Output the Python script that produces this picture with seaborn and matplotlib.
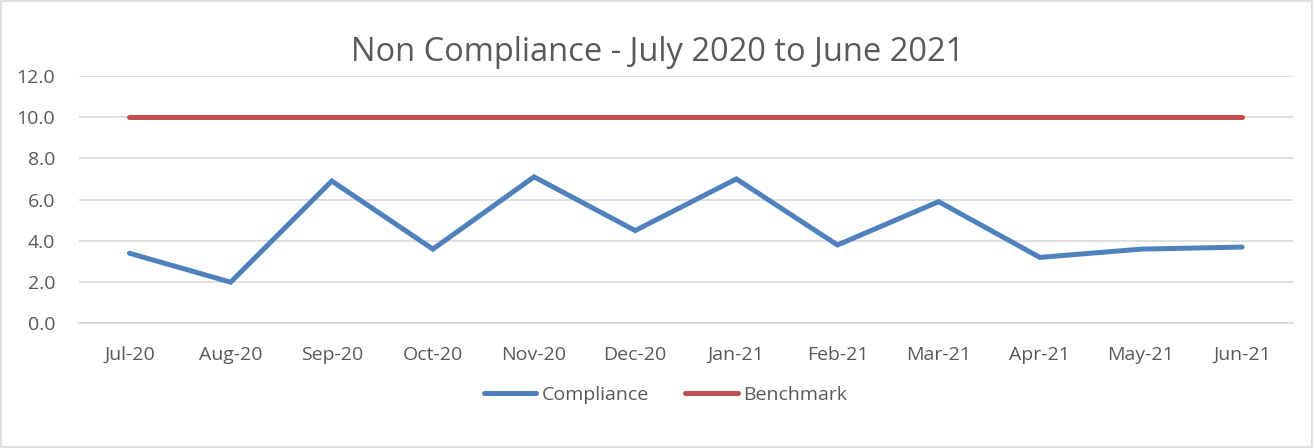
import matplotlib
matplotlib.use("Agg")
import matplotlib.pyplot as plt
import seaborn as sns
import pandas as pd
import numpy as np
from matplotlib.ticker import FixedLocator

months = ["Jul-20", "Aug-20", "Sep-20", "Oct-20", "Nov-20", "Dec-20",
          "Jan-21", "Feb-21", "Mar-21", "Apr-21", "May-21", "Jun-21"]
compliance = [3.4, 2.0, 6.9, 3.6, 7.1, 4.5, 7.0, 3.8, 5.9, 3.2, 3.6, 3.7]
benchmark = [10.0] * 12
y_ticks = [0, 2, 4, 6, 8, 10, 12]
title = "Non Compliance - July 2020 to June 2021"

sns.set_theme(style="white")
plt.rcParams['font.family'] = ['Open Sans', 'DejaVu Sans']

text_color = "#595959"
grid_color = "#D9D9D9"

df = pd.DataFrame({
    "Month": months * 2,
    "Value": compliance + benchmark,
    "Series": ["Compliance"] * 12 + ["Benchmark"] * 12,
})
df["pos"] = list(range(12)) * 2

fig = plt.figure(figsize=(13.15, 4.48), dpi=100)
ax = fig.add_axes([0.060, 0.278, 0.923, 0.553])

sns.lineplot(data=df, x="pos", y="Value", hue="Series",
             palette={"Compliance": "#4F81BD", "Benchmark": "#C0504D"},
             linewidth=3.6, sort=False, ax=ax, legend=True)
for ln in ax.get_lines():
    ln.set_solid_capstyle("round")
    ln.set_solid_joinstyle("miter")

ax.set_xlim(-0.5, 11.5)
ax.set_ylim(0, 12)
ax.set_yticks(y_ticks)
ax.set_yticklabels([f"{v:.1f}" for v in y_ticks])
ax.set_xticks(range(12))
ax.set_xticklabels(months)
ax.xaxis.set_minor_locator(FixedLocator(np.arange(-0.5, 12, 1)))
ax.tick_params(axis="x", which="major", length=0, pad=16, labelsize=14, colors=text_color)
ax.tick_params(axis="x", which="minor", length=6, width=1, color=grid_color, direction="out")
ax.tick_params(axis="y", length=0, pad=17, labelsize=14, colors=text_color)
ax.set_xlabel("")
ax.set_ylabel("")
ax.grid(axis="y", color=grid_color, linewidth=1.2)
ax.set_axisbelow(True)
for s in ["left", "right", "top"]:
    ax.spines[s].set_visible(False)
ax.spines["bottom"].set_color(grid_color)
ax.spines["bottom"].set_linewidth(1.2)

fig.text(0.5, 0.882, title, ha="center", va="center", fontsize=23.5, color=text_color)

handles, labels = ax.get_legend_handles_labels()
ax.legend_.remove()
leg = fig.legend(handles, labels, loc="center", bbox_to_anchor=(0.506, 0.118), ncol=2,
                 frameon=False, fontsize=14, handlelength=2.7, handletextpad=0.25,
                 columnspacing=1.9)
for t in leg.get_texts():
    t.set_color(text_color)

border = plt.Rectangle((0.001, 0.002), 0.997, 0.996, transform=fig.transFigure,
                       fill=False, edgecolor=grid_color, linewidth=1.2)
fig.add_artist(border)

fig.savefig("out.png", dpi=100)
